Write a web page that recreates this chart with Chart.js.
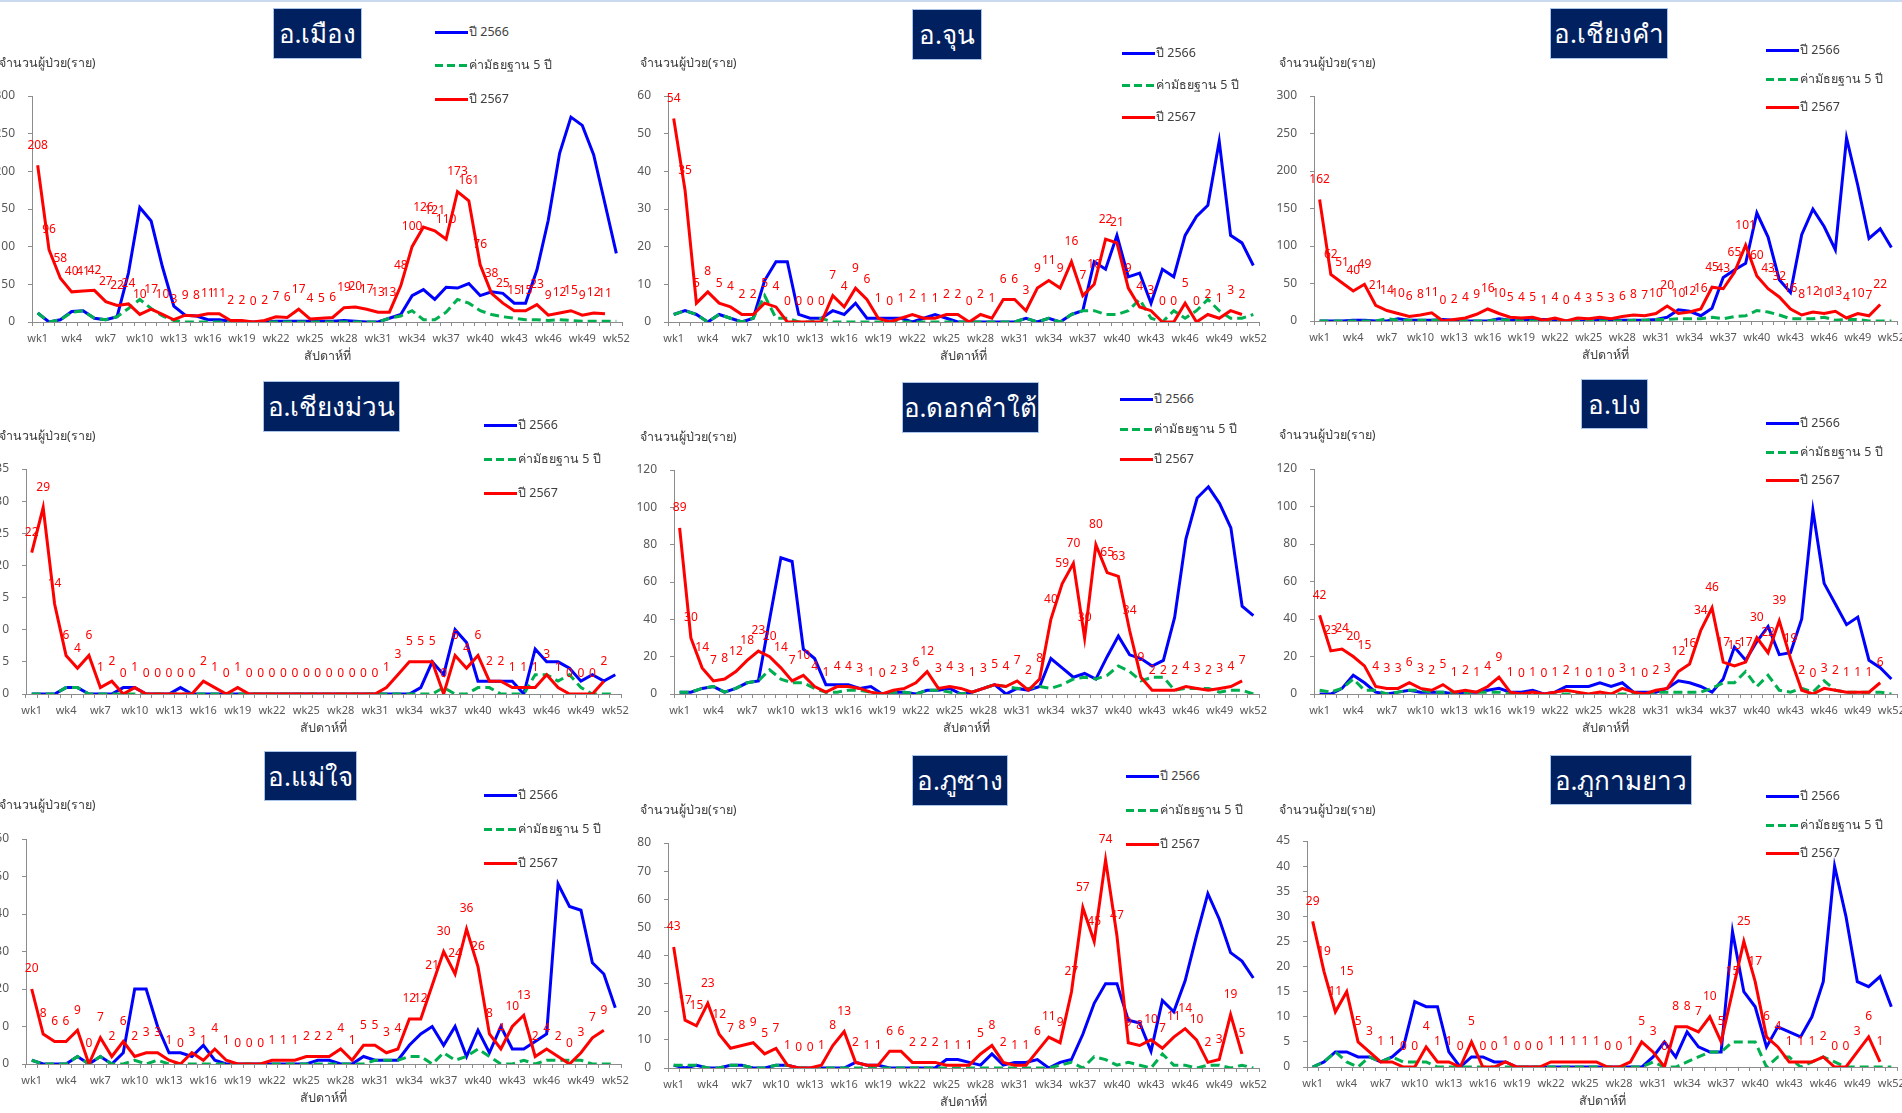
<!DOCTYPE html>
<html><head><meta charset="utf-8">
<script src="https://cdn.jsdelivr.net/npm/chart.js@4"></script>
<style>
html,body{margin:0;padding:0;background:#fff;}
body{width:1902px;height:1113px;position:relative;overflow:hidden;font-family:"Noto Sans","DejaVu Sans",sans-serif;}
.topbar{position:absolute;left:0;top:0;width:1902px;height:2px;background:#c9daf0;}
canvas{position:absolute;}
.tbox{position:absolute;background:#002060;border:1px solid #a9c4e8;color:#fff;display:flex;align-items:center;justify-content:center;font-size:26px;box-sizing:border-box;white-space:nowrap;z-index:5;}
.ytitle{position:absolute;font-size:12.5px;color:#404040;white-space:nowrap;transform:translateY(-50%);z-index:5;}
.leg{position:absolute;font-size:12.5px;color:#404040;white-space:nowrap;display:flex;align-items:center;transform:translateY(-50%);z-index:5;}
.leg .sw{width:33px;height:3px;margin-right:1px;}
</style></head><body>
<div class="topbar"></div>
<script>
// ---------- data ----------
const weeks = Array.from({length:52},(_,i)=>'wk'+(i+1));
const seriesNames = ['ปี 2566','ค่ามัธยฐาน 5 ปี','ปี 2567'];
const yAxisTitle = 'จำนวนผู้ป่วย(ราย)';
const xAxisTitle = 'สัปดาห์ที่';

const muang2566 = [12,0,3,14,15,5,3,7,65,152,134,73,21,9,8,3,3,1,0,0,0,1,1,1,1,1,1,2,1,0,0,5,10,35,43,30,46,45,51,35,40,38,25,25,69,135,224,272,261,222,157,91];
const muangMed  = [12,0,3,13,15,5,3,7,18,30,18,8,2,0,0,0,0,0,0,0,0,0,0,0,0,0,0,0,0,0,0,5,8,15,3,3,13,30,25,15,10,7,5,3,3,2,3,2,1,1,1,1];
const muang2567 = [208,96,58,40,41,42,27,22,24,10,17,10,3,9,8,11,11,2,2,0,2,7,6,17,4,5,6,19,20,17,13,13,48,100,126,121,110,173,161,76,38,25,15,15,23,9,12,15,9,12,11];

const chun2566 = [2,3,2,0,2,1,0,1,11,16,16,2,1,1,3,2,5,1,1,1,1,0,1,2,1,0,0,0,0,0,0,1,0,1,0,2,3,16,14,23,12,13,5,14,12,23,28,31,48,23,21,15];
const chunMed  = [2,3,2,0,2,1,0,1,7,1,1,0,0,1,0,0,0,0,0,0,0,0,0,0,0,0,0,0,0,0,0,1,0,1,0,2,3,3,2,2,3,6,1,0,3,1,3,6,3,1,1,2];
const chun2567 = [54,35,5,8,5,4,2,2,5,4,0,0,0,0,7,4,9,6,1,0,1,2,1,1,2,2,0,2,1,6,6,3,9,11,9,16,7,10,22,21,9,4,3,0,0,5,0,2,1,3,2];

const chiangkham2566 = [0,0,0,1,1,0,0,3,1,1,1,2,1,0,0,0,3,1,1,1,2,1,0,0,0,1,1,1,1,1,2,5,15,13,7,17,58,68,77,144,112,55,38,115,149,126,95,244,181,110,123,98];
const chiangkhamMed  = [0,0,0,0,0,0,3,1,1,1,1,1,0,0,0,0,2,1,0,0,0,0,0,0,0,0,0,0,1,1,2,2,3,3,3,5,3,6,7,14,12,8,3,3,3,5,1,2,2,0,0,0];
const chiangkham2567 = [162,62,51,40,49,21,14,10,6,8,11,0,2,4,9,16,10,5,4,5,1,4,0,4,3,5,3,6,8,7,10,20,10,12,16,45,43,65,101,60,43,32,16,8,12,10,13,4,10,7,22];

const chiangmuan2566 = [0,0,0,1,1,0,0,0,1,1,0,0,0,1,0,0,0,0,0,0,0,0,0,0,0,0,0,0,0,0,0,0,0,0,1,5,3,10,8,2,2,2,2,0,7,5,5,4,2,3,2,3];
const chiangmuanMed  = [0,0,0,1,1,0,0,0,0,0,0,0,0,0,0,0,0,0,0,0,0,0,0,0,0,0,0,0,0,0,0,0,0,0,0,0,1,0,0,1,1,0,0,0,3,3,2,3,1,0,0,0];
const chiangmuan2567 = [22,29,14,6,4,6,1,2,0,1,0,0,0,0,0,2,1,0,1,0,0,0,0,0,0,0,0,0,0,0,0,1,3,5,5,5,0,6,4,6,2,2,1,1,1,3,1,0,0,0,2];

const dokkhamtai2566 = [1,1,3,4,1,3,6,7,40,73,71,24,19,5,5,5,3,4,0,1,1,0,2,2,3,0,1,3,5,0,3,2,4,19,14,9,11,8,20,31,21,19,15,18,41,83,105,111,102,89,47,42];
const dokkhamtaiMed  = [1,1,3,4,1,3,6,7,13,8,6,6,3,1,1,2,2,1,0,1,1,0,2,2,1,0,1,3,5,4,3,3,4,3,5,8,9,8,10,15,12,7,9,9,2,3,3,3,1,2,2,0];
const dokkhamtai2567 = [89,30,14,7,8,12,18,23,20,14,7,10,4,1,4,4,3,1,0,2,3,6,12,3,4,3,1,3,5,4,7,2,8,40,59,70,30,80,65,63,34,9,2,2,2,4,3,2,3,4,7];

const pong2566 = [0,0,3,10,6,1,0,1,2,1,1,1,0,1,1,2,3,1,1,2,0,1,4,4,4,6,4,6,1,1,1,3,7,6,4,1,8,25,18,28,36,21,22,40,98,59,48,37,41,18,14,8];
const pongMed  = [2,1,3,8,2,2,0,1,2,2,1,1,1,1,1,1,1,0,0,0,0,0,0,0,0,0,0,0,0,0,1,1,1,1,1,3,6,6,12,4,10,2,1,3,1,7,2,1,1,1,1,0];
const pong2567 = [42,23,24,20,15,4,3,3,6,3,2,5,1,2,1,4,9,1,0,1,0,1,2,1,0,1,0,3,1,0,2,3,12,16,34,46,17,15,17,30,22,39,19,2,0,3,2,1,1,1,6];

const maechai2566 = [1,0,0,0,2,0,2,0,3,20,20,10,3,3,2,5,1,0,0,0,0,0,0,0,0,1,1,0,0,2,1,1,1,5,8,10,5,10,2,9,3,10,4,4,6,8,48,42,41,27,24,15];
const maechaiMed  = [1,0,0,0,2,0,2,0,0,1,0,1,0,0,0,0,0,0,0,0,0,0,0,0,0,0,0,0,0,0,1,1,1,2,2,0,3,1,2,4,2,0,0,1,0,1,1,1,1,0,0,0];
const maechai2567 = [20,8,6,6,9,0,7,2,6,2,3,3,1,0,3,1,4,1,0,0,0,1,1,1,2,2,2,4,1,5,5,3,4,12,12,21,30,24,36,26,8,4,10,13,2,4,2,0,3,7,9];

const phusang2566 = [1,0,1,0,0,1,1,0,0,1,1,0,0,0,0,0,2,1,1,0,0,0,0,0,3,3,2,1,5,1,2,2,3,0,2,3,12,23,30,30,17,16,6,24,20,31,47,62,53,41,38,32];
const phusangMed  = [1,1,1,0,0,1,1,0,0,1,1,0,0,0,0,0,0,0,0,0,0,0,0,0,0,0,0,0,0,0,0,0,0,0,1,2,0,4,3,1,2,1,0,5,1,1,0,1,1,0,1,0];
const phusang2567 = [43,17,15,23,12,7,8,9,5,7,1,0,0,1,8,13,2,1,1,6,6,2,2,2,1,1,1,5,8,2,1,1,6,11,9,27,57,45,74,47,9,8,10,7,11,14,10,2,3,19,5];

const phukamyao2566 = [0,1,3,3,2,2,1,2,4,13,12,12,3,0,2,2,1,1,0,0,0,0,0,0,0,0,0,0,0,0,2,5,2,7,4,3,3,27,15,12,4,8,7,6,10,17,40,30,17,16,18,12];
const phukamyaoMed  = [0,1,3,1,0,2,1,2,1,1,1,0,0,0,0,0,0,0,0,0,0,0,0,0,0,0,0,0,0,0,1,0,0,1,2,3,3,5,5,5,0,2,2,0,1,2,1,0,0,0,0,0];
const phukamyao2567 = [29,19,11,15,5,3,1,1,0,0,4,1,1,0,5,0,0,1,0,0,0,1,1,1,1,1,0,0,1,5,3,0,8,8,7,10,5,15,25,17,6,4,1,1,1,2,0,0,3,6,1];

const districtNames = ['อ.เมือง','อ.จุน','อ.เชียงคำ','อ.เชียงม่วน','อ.ดอกคำใต้','อ.ปง','อ.แม่ใจ','อ.ภูซาง','อ.ภูกามยาว'];
const yMaxes = [300,60,300,35,120,120,60,80,45];
const ySteps = [50,10,50,5,20,20,10,10,5];

// ---------- layout (pixel positions only) ----------
const panels = [
 {b:muang2566,g:muangMed,r:muang2567, L:32,R:622,T:96,B:322, tb:[273,8,89,51], lg:[435,32,65,99], yt:[-1,63]},
 {b:chun2566,g:chunMed,r:chun2567, L:668,R:1259,T:96,B:322, tb:[912,9,70,51], lg:[1122,53,85,117], yt:[640,63]},
 {b:chiangkham2566,g:chiangkhamMed,r:chiangkham2567, L:1314,R:1897,T:96,B:321, tb:[1550,8,118,51], lg:[1766,50,79,107], yt:[1279,63]},
 {b:chiangmuan2566,g:chiangmuanMed,r:chiangmuan2567, L:26,R:621,T:469,B:694, tb:[263,381,137,51], lg:[484,425,459,493], yt:[-1,436]},
 {b:dokkhamtai2566,g:dokkhamtaiMed,r:dokkhamtai2567, L:674,R:1259,T:470,B:694, tb:[902,382,137,51], lg:[1120,399,429,459], yt:[640,437]},
 {b:pong2566,g:pongMed,r:pong2567, L:1314,R:1897,T:469,B:694, tb:[1581,379,67,50], lg:[1766,423,452,480], yt:[1279,435]},
 {b:maechai2566,g:maechaiMed,r:maechai2567, L:26,R:621,T:839,B:1064, tb:[264,751,93,50], lg:[484,795,829,863], yt:[-1,805]},
 {b:phusang2566,g:phusangMed,r:phusang2567, L:668,R:1259,T:843,B:1068, tb:[912,755,96,51], lg:[1126,776,810,844], yt:[640,810]},
 {b:phukamyao2566,g:phukamyaoMed,r:phukamyao2567, L:1307,R:1897,T:841,B:1067, tb:[1550,755,142,50], lg:[1766,796,825,853], yt:[1279,810]}
];

Chart.defaults.font.family = '"Noto Sans","DejaVu Sans",sans-serif';

const valueLabels = {
  id:'valueLabels',
  afterDatasetsDraw(chart){
    const meta = chart.getDatasetMeta(2);
    const vals = chart.data.datasets[2].data;
    const ctx = chart.ctx;
    ctx.save();
    ctx.fillStyle = '#FF0000';
    ctx.font = '12px "Noto Sans","DejaVu Sans",sans-serif';
    ctx.textAlign = 'center';
    ctx.textBaseline = 'middle';
    meta.data.forEach((pt,i)=>{
      if (vals[i]==null) return;
      ctx.fillText(String(vals[i]), pt.x, pt.y - 20);
    });
    ctx.restore();
  }
};

function el(cls, css, html){
  const d = document.createElement('div');
  d.className = cls;
  Object.assign(d.style, css);
  if (html!=null) d.innerHTML = html;
  document.body.appendChild(d);
  return d;
}

panels.forEach((p,k)=>{
  const padL=70, padR=20, padT=40, padB=50;
  const w = p.R - p.L + padL + padR;
  const h = p.B - p.T + padT + padB;
  const cv = document.createElement('canvas');
  cv.width = w; cv.height = h;
  cv.style.left = (p.L - padL)+'px'; cv.style.top = (p.T - padT)+'px';
  cv.style.width = w+'px'; cv.style.height = h+'px';
  document.body.appendChild(cv);
  new Chart(cv, {
    type:'line',
    data:{labels:weeks, datasets:[
      {label:seriesNames[0], data:p.b, borderColor:'#0000FF', borderWidth:3, pointRadius:0, tension:0, order:2},
      {label:seriesNames[1], data:p.g, borderColor:'#00B050', borderWidth:3, borderDash:[9,5], pointRadius:0, tension:0, order:1},
      {label:seriesNames[2], data:p.r, borderColor:'#FF0000', borderWidth:3, pointRadius:0, tension:0, order:0}
    ]},
    options:{
      responsive:false, animation:false, devicePixelRatio:1,
      layout:{padding:{left:0,right:padR,top:padT,bottom:0}},
      plugins:{legend:{display:false}, tooltip:{enabled:false}},
      scales:{
        x:{offset:true,
           grid:{display:true, drawOnChartArea:false, tickLength:4, color:'#8c8c8c', offset:true},
           border:{color:'#8c8c8c'},
           ticks:{autoSkip:false, maxRotation:0, minRotation:0, padding:6, color:'#595959', font:{size:11},
                  callback:(v,i)=> i%3===0 ? weeks[i] : ''},
           title:{display:true, text:xAxisTitle, color:'#404040', font:{size:12.5}, padding:{top:0,bottom:8}},
           afterFit:s=>{s.height=padB;}},
        y:{min:0, max:yMaxes[k],
           ticks:{stepSize:ySteps[k], color:'#595959', font:{size:12}, padding:13},
           grid:{drawOnChartArea:false, tickLength:4, color:'#8c8c8c'},
           border:{color:'#8c8c8c'},
           afterFit:s=>{s.width=padL;}}
      }
    },
    plugins:[valueLabels]
  });
  // title box
  el('tbox',{left:p.tb[0]+'px',top:p.tb[1]+'px',width:p.tb[2]+'px',height:p.tb[3]+'px'}, districtNames[k]);
  // y title
  el('ytitle',{left:p.yt[0]+'px',top:p.yt[1]+'px'}, yAxisTitle);
  // legend
  const sw = ['background:#0000FF','background:repeating-linear-gradient(90deg,#00B050 0 8px,transparent 8px 12px)','background:#FF0000'];
  for (let j=0;j<3;j++){
    el('leg',{left:p.lg[0]+'px',top:p.lg[1+j]+'px'}, '<span class="sw" style="'+sw[j]+'"></span>'+seriesNames[j]);
  }
});
</script>
</body></html>
